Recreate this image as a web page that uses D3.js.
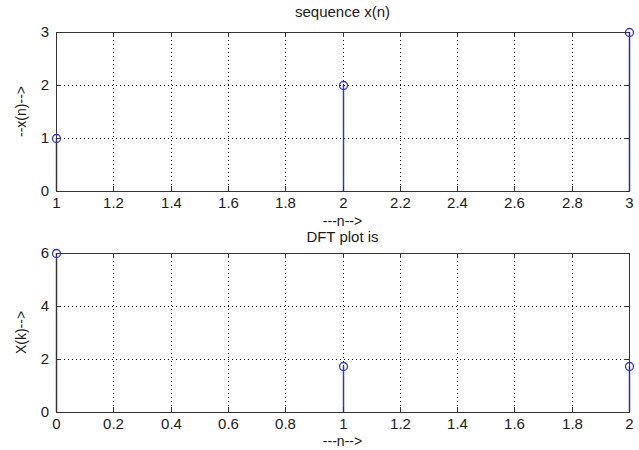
<!DOCTYPE html>
<html>
<head>
<meta charset="utf-8">
<script src="https://cdn.jsdelivr.net/npm/d3@7"></script>
<style>
  body { margin: 0; background: #fff; }
  svg text { font-family: "Liberation Sans", Arial, Helvetica, sans-serif; fill: #1a1a1a; }
</style>
</head>
<body>
<div class="chart"></div>
<script>
// sequence x(n)
var seqN = [1, 2, 3];
var seqX = [1, 2, 3];

// DFT magnitude |X(k)|
var dftK = [0, 1, 2];
var dftMag = [6, 1.732, 1.732];

// tick labels
var topXTicks = [1, 1.2, 1.4, 1.6, 1.8, 2, 2.2, 2.4, 2.6, 2.8, 3];
var topYTicks = [0, 1, 2, 3];
var botXTicks = [0, 0.2, 0.4, 0.6, 0.8, 1, 1.2, 1.4, 1.6, 1.8, 2];
var botYTicks = [0, 2, 4, 6];

var svgWidth = 639;
var svgHeight = 450;

var svg = d3.select(".chart")
  .append("svg")
  .attr("width", svgWidth)
  .attr("height", svgHeight);

var stemColor = "#3434d8";

/********************************************/
function drawPanel(opt) {
  var left = 56, right = 629;
  var w = right - left, h = opt.bottom - opt.top;

  // rounded ranges so every line lands on whole pixels
  var x = d3.scaleLinear().domain(opt.xDomain).rangeRound([0, w]);
  var y = d3.scaleLinear().domain(opt.yDomain).rangeRound([h, 0]);

  var g = svg.append("g")
    .attr("transform", `translate(${left}, ${opt.top})`);

  // dotted grid
  g.append("g").selectAll("line")
    .data(opt.xTicks.filter(d => d !== opt.xDomain[0] && d !== opt.xDomain[1]))
    .enter().append("line")
    .attr("x1", d => x(d) + 0.5).attr("x2", d => x(d) + 0.5)
    .attr("y1", 0).attr("y2", h)
    .attr("stroke", "#000").attr("stroke-width", 1)
    .attr("stroke-dasharray", "1,3");

  g.append("g").selectAll("line")
    .data(opt.yTicks.filter(d => d !== opt.yDomain[0] && d !== opt.yDomain[1]))
    .enter().append("line")
    .attr("y1", d => y(d) + 0.5).attr("y2", d => y(d) + 0.5)
    .attr("x1", 0).attr("x2", w)
    .attr("stroke", "#000").attr("stroke-width", 1)
    .attr("stroke-dasharray", "1,3");

  // stems (under the axis box, like the original)
  var pts = opt.xs.map((d, i) => ({ x: d, y: opt.ys[i] }));
  g.append("g").selectAll("line")
    .data(pts)
    .enter().append("line")
    .attr("x1", d => x(d.x) + 0.5).attr("x2", d => x(d.x) + 0.5)
    .attr("y1", y(0)).attr("y2", d => y(d.y))
    .attr("stroke", stemColor).attr("stroke-width", 1.5);

  // axes, ticks pointing inward
  var fmt = d3.format("");
  g.append("g")
    .attr("class", "x-axis")
    .attr("transform", `translate(0, ${h})`)
    .call(d3.axisBottom(x).tickValues(opt.xTicks).tickSize(-5).tickPadding(6).tickFormat(fmt));
  g.append("g")
    .call(d3.axisTop(x).tickValues(opt.xTicks).tickSize(-5).tickFormat(""));
  g.append("g")
    .attr("class", "y-axis")
    .call(d3.axisLeft(y).tickValues(opt.yTicks).tickSize(-5).tickPadding(7).tickFormat(fmt));
  g.append("g")
    .attr("transform", `translate(${w}, 0)`)
    .call(d3.axisRight(y).tickValues(opt.yTicks).tickSize(-5).tickFormat(""));

  g.selectAll(".domain").attr("stroke", "#333");
  g.selectAll(".tick line").attr("stroke", "#333");
  g.selectAll(".tick text").style("font-size", "15px").attr("fill", "#1a1a1a");

  // markers on top
  g.append("g").selectAll("circle")
    .data(pts)
    .enter().append("circle")
    .attr("cx", d => x(d.x) + 0.5)
    .attr("cy", d => y(d.y) + 0.5)
    .attr("r", 4)
    .attr("fill", "none")
    .attr("stroke", stemColor)
    .attr("stroke-width", 1.3);

  // labels
  if (opt.title) {
    svg.append("text")
      .attr("x", left + w / 2)
      .attr("y", opt.titleY)
      .attr("text-anchor", "middle")
      .style("font-size", "15px")
      .text(opt.title);
  }
  svg.append("text")
    .attr("x", left + w / 2)
    .attr("y", opt.xLabelY)
    .attr("text-anchor", "middle")
    .style("font-size", "14px")
    .text("---n-->");
  svg.append("text")
    .attr("transform", `translate(26, ${opt.top + h / 2}) rotate(-90)`)
    .attr("text-anchor", "middle")
    .style("font-size", "14px")
    .text(opt.yLabel);
}

drawPanel({
  top: 32, bottom: 191,
  xDomain: [1, 3], yDomain: [0, 3],
  xTicks: topXTicks, yTicks: topYTicks,
  xs: seqN, ys: seqX,
  title: "sequence x(n)", titleY: 17,
  xLabelY: 226, yLabel: "--x(n)-->"
});

drawPanel({
  top: 253, bottom: 412,
  xDomain: [0, 2], yDomain: [0, 6],
  xTicks: botXTicks, yTicks: botYTicks,
  xs: dftK, ys: dftMag,
  title: "DFT plot is", titleY: 242,
  xLabelY: 446, yLabel: "X(k)-->"
});
</script>
</body>
</html>
